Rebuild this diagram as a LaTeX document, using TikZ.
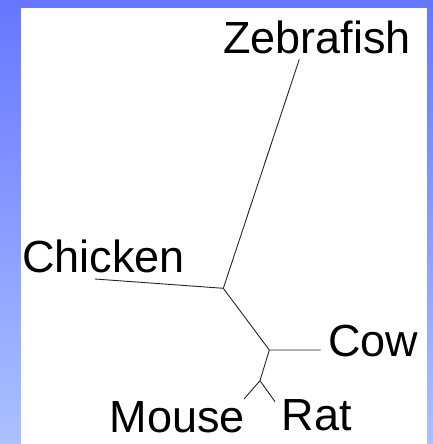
\documentclass[tikz,border=0pt]{standalone}
\usepackage{fontspec}
\setmainfont{Liberation Sans}
\begin{document}
\begin{tikzpicture}[x=1pt,y=-1pt,
  lbl/.style={anchor=base west,inner sep=0pt,font=\fontsize{45}{52}\selectfont},
  branch/.style={draw=black!85,line width=0.9pt}]
\useasboundingbox (0,0) rectangle (433,444);
\shade[top color={rgb,255:red,102;green,119;blue,255},bottom color={rgb,255:red,172;green,192;blue,255}] (0,0) rectangle (433,444);
\fill[white] (21,8) rectangle (427,444);
% tree points
\coordinate (j1) at (223.3,288.3);
\coordinate (j2) at (269.3,350);
\coordinate (j3) at (260,380.7);
\coordinate (zf) at (299.3,59.3);
\coordinate (ck) at (95,279);
\coordinate (cw) at (320.7,350);
\coordinate (ms) at (244,399);
\coordinate (rt) at (275,401.7);
% labels
\node[lbl] (zebra) at (223,54) {Zebrafish};
\node[lbl] (chick) at (22,272) {Chicken};
\node[lbl] (cow) at (328,356.5) {Cow};
\node[lbl] (rat) at (281.5,430) {Rat};
\node[lbl] (mouse) at (109.5,432) {Mouse};
% branches
\draw[branch] (zf) -- (j1) -- (ck);
\draw[branch] (j1) -- (j2) -- (cw);
\draw[branch] (j2) -- (j3) -- (ms);
\draw[branch] (j3) -- (rt);
\end{tikzpicture}
\end{document}
